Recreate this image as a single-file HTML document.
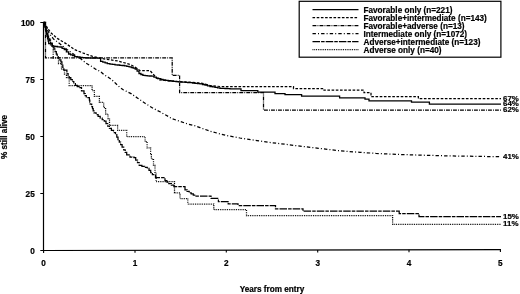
<!DOCTYPE html>
<html><head><meta charset="utf-8"><title>Survival by cytogenetic group</title>
<style>
html,body{margin:0;padding:0;background:#fff;}
body{width:520px;height:294px;overflow:hidden;}
svg{display:block;}
svg text{font-family:"Liberation Sans",Arial,Helvetica,sans-serif;font-weight:bold;font-size:8.2px;fill:#000;stroke:#000;stroke-width:0.2px;}
</style></head><body>
<svg width="520" height="294" viewBox="0 0 520 294">
<rect width="520" height="294" fill="#fff"/>
<g id="curves">
<path d="M43.6,22.4 H44.3 V24.7 H45.0 V27.0 H45.5 V29.3 H46.0 V31.7 H46.5 V34.0 H47.0 V36.4 H47.6 V38.8 H48.2 V41.2 H48.7 V43.6 H52.0 V46.2 H54.8 V46.5 H57.5 V46.8 H60.0 V47.0 H62.1 V48.4 H64.3 V49.7 H66.4 V51.9 H68.6 V54.0 H70.6 V54.9 H72.7 V55.7 H74.7 V56.6 H77.3 V57.0 H80.0 V57.5 H82.5 V57.6 H85.0 V57.8 H87.5 V57.9 H90.0 V58.0 H92.2 V58.0 H94.3 V58.0 H96.5 V58.1 H98.7 V58.1 H100.6 V61.3 H102.8 V62.1 H105.1 V62.9 H107.3 V63.7 H109.9 V64.1 H112.4 V64.4 H115.0 V64.8 H117.4 V65.0 H119.8 V65.3 H122.2 V65.5 H124.6 V65.8 H126.8 V66.4 H129.1 V66.9 H131.3 V67.5 H133.2 V68.2 H135.2 V69.0 H137.1 V71.2 H139.0 V73.5 H140.9 V74.5 H142.9 V75.4 H145.1 V75.6 H147.2 V75.8 H149.3 V76.0 H151.5 V76.2 H153.9 V77.2 H156.3 V78.1 H158.5 V78.7 H160.8 V79.4 H163.0 V80.0 H165.6 V80.3 H168.2 V80.7 H170.8 V81.0 H173.4 V81.3 H175.9 V81.6 H178.5 V81.9 H180.8 V82.1 H183.1 V82.2 H185.4 V82.4 H187.7 V82.5 H190.0 V82.7 H192.5 V83.0 H195.0 V83.3 H197.5 V83.6 H200.0 V83.9 H202.5 V84.5 H205.0 V85.0 H207.5 V85.8 H210.0 V86.5 H212.5 V86.9 H215.0 V87.3 H217.5 V87.8 H220.0 V88.3 H222.5 V88.4 H225.0 V88.5 H227.5 V88.7 H230.0 V88.8 H232.2 V88.8 H234.4 V88.8 H236.6 V88.8 H238.8 V88.8 H241.0 V88.8 H241.0 V90.6 H257.8 V92.2 H275.0 V93.7 H285.0 V94.7 H301.6 V96.1 H339.6 V97.8 H365.0 V99.2 H369.0 V100.8 H411.5 V102.1 H429.4 V104.1 H501.0 V104.1" fill="none" stroke="#000" stroke-width="1.3"/>
<path d="M43.6,22.4 L47.0,27.0 L50.4,32.3 L57.3,38.4 L66.0,43.6 L74.7,49.7 L83.3,53.1 L92.0,56.2 L100.7,58.3 L109.3,59.7 L118.0,61.0 L130.0,64.4 L135.0,67.0 L140.0,70.6 L150.0,70.6 L154.0,75.0 L158.6,79.8 L165.0,80.5 L172.0,81.2 L180.0,81.6 L190.0,82.3 L200.0,83.0 L205.0,84.0 L210.0,85.5 L220.0,86.5 L230.0,86.7  H293.5 V88.6 H324.0 V90.2 H364.0 V92.7 H371.0 V96.7 H418.4 V98.7 H501.0 V98.7" fill="none" stroke="#000" stroke-width="1.25" stroke-dasharray="2.6 1.6"/>
<path d="M43.6,22.4 H45.5 V57.8 H172.2 V75.3 H179.6 V92.7 H263.5 V110.0 H501.0 V110.0" fill="none" stroke="#000" stroke-width="1.25" stroke-dasharray="3.9 1.1 0.9 1.1"/>
<path d="M43.6,22.4 L46.0,27.0 L49.0,33.0 L53.5,39.0 L59.5,43.5 L67.0,49.4 L74.4,54.7 L78.0,57.0 L80.6,58.6 L86.0,63.2 L91.4,66.3 L96.0,69.4 L100.6,71.7 L104.0,74.7 L107.8,77.0 L111.7,79.7 L115.5,83.2 L119.4,87.0 L123.2,89.7 L127.0,91.6 L131.5,93.9 L137.7,98.2 L145.4,103.5 L153.0,108.2 L160.0,111.8 L166.2,115.3 L172.3,118.8 L179.2,121.1 L187.0,123.8 L194.6,125.7 L200.0,127.6 L210.0,131.2 L226.0,135.4 L240.0,138.0 L257.0,140.6 L272.0,142.7 L287.7,144.6 L303.0,146.5 L318.5,148.3 L340.0,150.8 L360.0,152.3 L376.0,153.4 L400.0,154.5 L422.0,155.2 L450.0,155.9 L480.0,156.4 L501.0,156.7" fill="none" stroke="#000" stroke-width="1.25" stroke-dasharray="3.4 2.1 1 2.1"/>
<path d="M43.6,22.4 H44.2 V24.6 H44.9 V26.8 H45.5 V29.0 H46.2 V31.3 H46.8 V33.7 H47.5 V36.0 H48.5 V38.3 H49.5 V40.7 H50.5 V43.0 H52.2 V46.0 H54.0 V49.0 H55.1 V51.6 H56.3 V54.2 H57.2 V56.0 H58.2 V57.9 H59.5 V59.8 H60.9 V61.8 H61.9 V64.5 H62.8 V67.3 H63.8 V70.0 H66.9 V73.5 H68.1 V75.6 H69.2 V77.7 H70.8 V79.6 H72.3 V81.5 H73.8 V83.5 H75.4 V85.4 H77.3 V86.6 H79.2 V87.7 H81.5 V90.8 H84.0 V93.6 H85.2 V95.5 H86.3 V97.5 H89.4 V100.2 H89.8 V102.1 H90.2 V104.0 H91.7 V106.5 H92.5 V108.6 H93.2 V110.8 H94.0 V112.9 H96.1 V114.6 H98.1 V116.3 H100.2 V118.0 H102.2 V119.6 H104.3 V121.2 H106.0 V123.6 H107.7 V126.0 H109.4 V128.4 H111.4 V130.4 H113.5 V132.5 H115.5 V134.5 H116.8 V137.1 H118.0 V139.6 H119.3 V142.1 H120.6 V144.7 H122.1 V147.2 H123.7 V149.8 H125.2 V152.3 H126.7 V154.9 H130.0 V157.0 H132.0 V157.2 H134.0 V157.5 H135.7 V160.1 H137.5 V162.7 H139.2 V165.3 H141.9 V166.3 H144.6 V167.4 H147.3 V168.4 H149.0 V170.4 H150.7 V172.5 H152.4 V174.5 H155.5 V177.5 H158.2 V177.5 H161.0 V177.5 H163.7 V177.5 H165.0 V180.6 H166.9 V182.1 H168.8 V183.7 H171.4 V185.2 H173.9 V186.7 H176.4 V186.7 H178.9 V186.7 H181.5 V186.7 H184.0 V186.7 H185.0 V189.8 H187.1 V191.4 H189.2 V192.9 H191.2 V193.9 H193.3 V195.0 H195.3 V196.0 H211.0 V198.4 H218.4 V201.6 H228.2 V203.8 H238.0 V205.5 H275.5 V208.9 H303.0 V211.2 H399.2 V213.6 H419.0 V216.7 H501.0 V216.7" fill="none" stroke="#000" stroke-width="1.25" stroke-dasharray="7.5 1.1 3.5 1.1"/>
<path d="M43.6,22.4 H45.5 V27.7 H47.0 V33.4 H48.5 V39.0 H50.5 V44.8 H53.2 V57.9 H58.5 V63.6 H61.5 V69.3 H64.5 V74.0 H66.5 V77.7 H69.2 V85.5 H92.1 V90.5 H94.4 V96.3 H99.4 V102.4 H103.7 V107.7 H105.6 V114.2 H108.0 V118.5 H109.5 V125.3 H117.6 V130.4 H126.7 V136.5 H145.1 V141.6 H147.1 V147.8 H150.6 V153.5 H151.4 V159.0 H153.5 V165.3 H155.0 V172.4 H156.1 V181.6 H174.5 V192.9 H180.0 V198.6 H187.8 V204.0 H213.8 V209.7 H246.5 V215.6 H392.6 V224.3 H501.0 V224.3" fill="none" stroke="#000" stroke-width="1.25" stroke-dasharray="0.9 0.9"/>
</g>
<g id="axes">
<path d="M43.5,22.2 V250.5 L501,249.6" fill="none" stroke="#000" stroke-width="1.2"/>
<path d="M40.3,250.5 H44" stroke="#000" stroke-width="1"/>
<path d="M40.3,193.5 H44" stroke="#000" stroke-width="1"/>
<path d="M40.3,136.5 H44" stroke="#000" stroke-width="1"/>
<path d="M40.3,79.5 H44" stroke="#000" stroke-width="1"/>
<path d="M40.3,22.5 H44" stroke="#000" stroke-width="1"/>
<path d="M43.6,250.5 V252.9" stroke="#000" stroke-width="1.1"/>
<path d="M135.0,250.3 V252.7" stroke="#000" stroke-width="1.1"/>
<path d="M226.3,250.1 V252.5" stroke="#000" stroke-width="1.1"/>
<path d="M317.7,250.0 V252.4" stroke="#000" stroke-width="1.1"/>
<path d="M409.0,249.8 V252.2" stroke="#000" stroke-width="1.1"/>
<path d="M500.4,249.6 V252.0" stroke="#000" stroke-width="1.1"/>
</g>
<g id="labels">
<text x="34.7" y="253.7" text-anchor="end">0</text>
<text x="34.7" y="196.7" text-anchor="end">25</text>
<text x="34.7" y="139.7" text-anchor="end">50</text>
<text x="34.7" y="82.7" text-anchor="end">75</text>
<text x="34.7" y="25.7" text-anchor="end">100</text>
<text x="43.6" y="266.0" text-anchor="middle">0</text>
<text x="135.0" y="266.0" text-anchor="middle">1</text>
<text x="226.3" y="266.0" text-anchor="middle">2</text>
<text x="317.7" y="266.0" text-anchor="middle">3</text>
<text x="409.0" y="266.0" text-anchor="middle">4</text>
<text x="500.4" y="266.0" text-anchor="middle">5</text>
<text x="272.0" y="291.5" text-anchor="middle">Years from entry</text>
<text transform="translate(7.2,137) rotate(-90)" text-anchor="middle">% still alive</text>
<text x="503.1" y="100.5" text-anchor="start" style="font-size:7.9px">67%</text>
<text x="503.1" y="106.2" text-anchor="start" style="font-size:7.9px">64%</text>
<text x="503.1" y="111.8" text-anchor="start" style="font-size:7.9px">62%</text>
<text x="503.1" y="159.0" text-anchor="start" style="font-size:7.9px">41%</text>
<text x="503.1" y="218.9" text-anchor="start" style="font-size:7.9px">15%</text>
<text x="503.1" y="226.0" text-anchor="start" style="font-size:7.9px">11%</text>
</g>
<g id="legend">
<rect x="299.2" y="1.3" width="201.7" height="55.9" fill="#fff" stroke="#000" stroke-width="1.2"/>
<path d="M312.5,9.7 H358.5" stroke="#000" stroke-width="1.3"/>
<text x="363.5" y="12.7">Favorable only (n=221)</text>
<path d="M312.5,17.6 H358.5" stroke="#000" stroke-width="1.3" stroke-dasharray="2.6 1.6"/>
<text x="363.5" y="20.6">Favorable+intermediate (n=143)</text>
<path d="M312.5,25.6 H358.5" stroke="#000" stroke-width="1.3" stroke-dasharray="3.9 1.1 0.9 1.1"/>
<text x="363.5" y="28.6">Favorable+adverse (n=13)</text>
<path d="M312.5,33.6 H358.5" stroke="#000" stroke-width="1.3" stroke-dasharray="3.4 2.1 1 2.1"/>
<text x="363.5" y="36.6">Intermediate only (n=1072)</text>
<path d="M312.5,41.6 H358.5" stroke="#000" stroke-width="1.3" stroke-dasharray="7.5 1.1 3.5 1.1"/>
<text x="363.5" y="44.6">Adverse+intermediate (n=123)</text>
<path d="M312.5,49.6 H358.5" stroke="#000" stroke-width="1.3" stroke-dasharray="0.9 0.9"/>
<text x="363.5" y="52.6">Adverse only (n=40)</text>
</g>
</svg>
</body></html>
